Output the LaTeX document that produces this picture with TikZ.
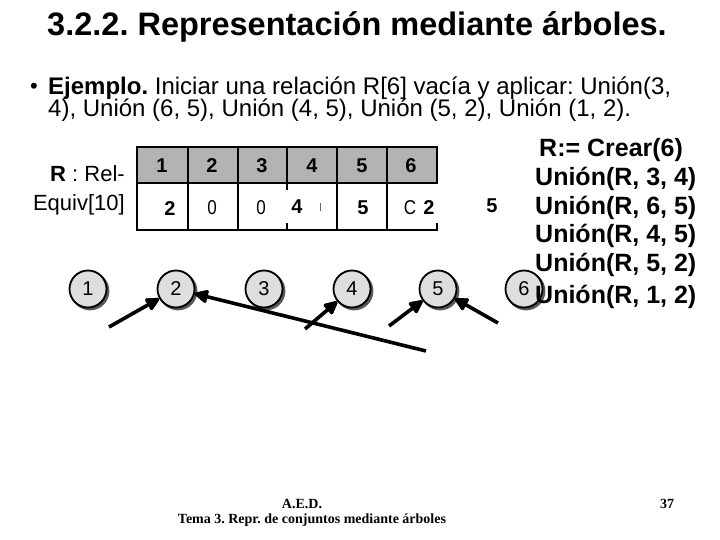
\documentclass[tikz,border=0pt]{standalone}
\usepackage{fontspec}
\setmainfont{Liberation Sans}
\newfontfamily\serifft{Liberation Serif}
\newfontfamily\narrowft[FakeStretch=0.85]{Liberation Sans}
\usetikzlibrary{calc}
\definecolor{hdrgray}{HTML}{B3B3B3}
\definecolor{nodegray}{HTML}{DEDEDE}
\definecolor{shadowgray}{HTML}{595959}
\frenchspacing
\tikzset{
  setnode/.style={circle, draw=black, line width=1.8bp, fill=nodegray, minimum size=37bp, inner sep=0pt,
    font=\fontsize{20bp}{22bp}\selectfont},
  linkline/.style={line width=3.6bp, draw=black},
  barb/.style={line width=3bp, draw=black, line cap=round, line join=round},
  hdr/.style={font=\fontsize{20bp}{22bp}\selectfont\bfseries},
  cellb/.style={font=\fontsize{20bp}{22bp}\selectfont\bfseries},
  celln/.style={font=\fontsize{20bp}{22bp}\selectfont\narrowft},
  outer/.style={line width=2.8bp, line cap=rect},
  inner/.style={line width=1.8bp},
  cmd/.style={anchor=west, font=\fontsize{25bp}{28bp}\selectfont\bfseries, inner sep=0pt},
  foot/.style={font=\fontsize{14bp}{16bp}\selectfont\serifft\bfseries},
}
\begin{document}
\begin{tikzpicture}[x=1bp,y=1bp]
\useasboundingbox (0,0) rectangle (720,-540);
% title
\node[font=\fontsize{32.5bp}{34bp}\selectfont\bfseries] (title) at (357,-27) {3.2.2. Representación mediante árboles.};
% bullet text
\node[font=\fontsize{22bp}{24bp}\selectfont] (bul) at (34,-88) {•};
\node[anchor=west, inner sep=0pt, font=\fontsize{24bp}{26bp}\selectfont] (l1) at (48,-88) {\textbf{Ejemplo.} Iniciar una relación R[6] vacía y aplicar: Unión(3,};
\node[anchor=west, inner sep=0pt, font=\fontsize{24bp}{26bp}\selectfont] (l2) at (48,-110) {4), Unión (6, 5), Unión (4, 5), Unión (5, 2), Unión (1, 2).};
% left label
\node[anchor=east, inner sep=0pt, font=\fontsize{22bp}{24bp}\selectfont] (lab1) at (125,-174) {\textbf{R} : Rel-};
\node[anchor=east, inner sep=0pt, font=\fontsize{22bp}{24bp}\selectfont] (lab2) at (125,-205) {Equiv[10]};
% table
\fill[hdrgray] (137,-147) rectangle (437,-183);
\draw[inner] (137,-183) -- (437,-183);
\draw[inner] (188,-147) -- (188,-230);
\draw[inner] (238,-147) -- (238,-230);
\draw[inner] (287,-147) -- (287,-190);
\draw[inner] (287,-223) -- (287,-230);
\draw[inner] (337,-147) -- (337,-230);
\draw[inner] (387,-147) -- (387,-230);
\draw[outer] (437,-183) -- (437,-147) -- (137,-147) -- (137,-230) -- (437,-230) -- (437,-224);
\foreach \x/\t in {162/1,212/2,262/3,312/4,362/5,411/6}
  \node[hdr] (h\t) at (\x,-166) {\t};
\node[cellb] (v1) at (170,-209) {2};
\node[celln] (v2) at (212,-208) {0};
\node[celln] (v3) at (261,-208) {0};
\node[cellb] (v4) at (297,-207) {4};
\draw[line width=0.8bp, black!60] (320,-203) -- (320,-211);
\node[cellb] (v5) at (363,-208) {5};
\node[celln] (vc) at (410,-208) {C};
\node[cellb] (v6) at (429,-208) {2};
\node[cellb] (out5) at (492,-206) {5};
% circle shadows and circles
\foreach \x in {88,176,264,352,438,524}
  \fill[shadowgray] (\x+2,-291) circle (19.4bp);
\node[setnode] (c1) at (88,-289) {1};
\node[setnode] (c2) at (176,-289) {2};
\node[setnode] (c3) at (264,-289) {3};
\node[setnode] (c4) at (352,-289) {4};
\node[setnode] (c5) at (438,-289) {5};
\node[setnode] (c6) at (524,-289) {6};
% commands
\node[cmd] (k1) at (539,-150) {R:= Crear(6)};
\node[cmd] (k2) at (535,-179) {Unión(R, 3, 4)};
\node[cmd] (k3) at (535,-208) {Unión(R, 6, 5)};
\node[cmd] (k4) at (535,-236) {Unión(R, 4, 5)};
\node[cmd] (k5) at (535,-265) {Unión(R, 5, 2)};
\node[cmd] (k6) at (535,-297) {Unión(R, 1, 2)};
% footer
\node[foot] (f1) at (302,-504) {A.E.D.};
\node[foot] (f2) at (312,-520) {Tema 3. Repr. de conjuntos mediante árboles};
\node[foot] (pg) at (667,-504) {37};
% arrows: shaft plus stroked triangular head
\coordinate (s1) at (109,-327);
\coordinate (s2) at (426,-351);
\coordinate (s3) at (305,-329);
\coordinate (s4) at (389,-326);
\coordinate (s5) at (498,-323);
\foreach \s/\t in {s1/c2,s2/c2,s3/c4,s4/c5,s5/c5}{
  \coordinate (tp) at ($(\t)!21bp!(\s)$);
  \coordinate (tb) at ($(\t)!31bp!(\s)$);
  \coordinate (tl) at ($(tb)!5bp!90:(tp)$);
  \coordinate (tr) at ($(tb)!5bp!-90:(tp)$);
  \draw[linkline] (\s) -- (tb);
  \filldraw[barb] (tp) -- (tl) -- (tr) -- cycle;
  \draw[barb] (tl) -- (tp) -- (tr);
}
\end{tikzpicture}
\end{document}
